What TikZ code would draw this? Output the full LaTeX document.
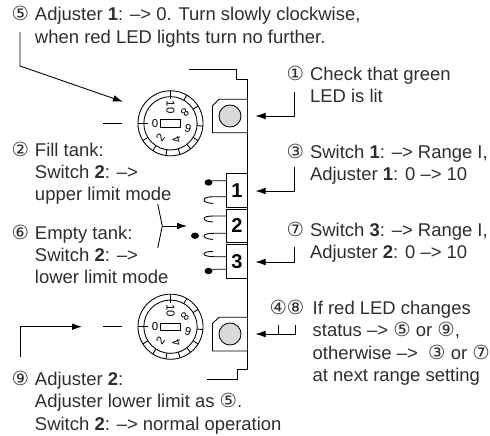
\documentclass[tikz,border=0pt]{standalone}
\usepackage{fontspec}
\setmainfont{Liberation Sans}
\newfontfamily\circfont{DejaVu Sans}
\usetikzlibrary{arrows.meta,shapes.geometric}
\newcommand{\cn}[1]{{\circfont\fontsize{14.6pt}{14.6pt}\selectfont\raisebox{-0.2pt}{#1}}}
\tikzset{
  x=0.75pt,y=-0.75pt,
  txt/.style={anchor=base west,inner sep=0pt,outer sep=0pt,font=\fontsize{13.85pt}{15pt}\selectfont,text=black!82},
  numl/.style={anchor=base west,inner sep=0pt,outer sep=0pt,font=\fontsize{13.85pt}{15pt}\selectfont,text=black!82},
  wire/.style={line width=0.65pt,black},
  tip/.style={-{Latex[length=7.5pt,width=5pt]}},
  ledbox/.style={line width=0.65pt,draw=black,fill=white},
  led/.style={circle,draw=black,line width=0.65pt,fill=black!15,minimum size=16.5pt,inner sep=0pt},
  swbox/.style={draw=black,line width=0.85pt,fill=white,minimum width=15.2pt,minimum height=25pt,inner sep=0pt,font=\bfseries\fontsize{15pt}{16pt}\selectfont},
  dot/.style={ellipse,fill=black,inner sep=0pt,minimum width=6pt,minimum height=4.8pt},
  dialnum/.style={inner sep=0pt,font=\fontsize{8.6pt}{9pt}\selectfont},
}
\newcommand{\dial}[2]{%
 \begin{scope}[shift={(#1,#2)}]
  \draw[wire] (0,0) circle[radius=24.4pt];
  \draw[wire] (0,0) circle[radius=20pt];
  \foreach \a in {60,32,-5,-32,-52,-73,-98,-123,-148}{
    \draw[wire] (\a:20pt) -- (\a:24.4pt);}
  \draw[wire] (180:24.4pt) -- (180:17pt);
  \draw[wire] (90:24.4pt) -- (90:18pt);
  \draw[wire] (-10,-3.7) rectangle (10,3.7);
  \node[dialnum,rotate=0] at (-15.5,0) {0};
  \node[dialnum,rotate=-90] at (0,-16) {10};
  \node[dialnum,rotate=-135] at (14.5,-10.5) {8};
  \node[dialnum,rotate=-195] at (17.5,5) {6};
  \node[dialnum,rotate=-250] at (6,16.5) {4};
  \node[dialnum,rotate=-305] at (-10,14) {2};
 \end{scope}}
\begin{document}
\begin{tikzpicture}
\useasboundingbox (0,0) rectangle (490,436);
% panel
\coordinate (pa) at (189,69);\coordinate (pb) at (236,69);\coordinate (pc) at (236,79);\coordinate (pd) at (247,79);
\coordinate (pe) at (247,369);\coordinate (pf) at (237,369);\coordinate (pg) at (237,379);\coordinate (ph) at (207,379);
\draw[wire] (pa)--(pb)--(pc)--(pd)--(pe)--(pf)--(pg)--(ph);
% LED boxes
\draw[ledbox] (247,99.3)--(219,99.3)--(212.5,105.7)--(212.5,132.7)--(247,132.7);
\node[led] (led1) at (230,116) {};
\draw[ledbox] (247,317.3)--(219,317.3)--(212.5,323.5)--(212.5,351)--(247,351);
\node[led] (led2) at (230,334) {};
% dials
\dial{170.5}{123.3}
\dial{170.5}{326.7}
\coordinate (d1l) at (122,123);\coordinate (d1m) at (103,123);
\draw[wire] (d1m)--(d1l);
\coordinate (d2l) at (122,326.7);\coordinate (d2m) at (103,326.7);
\draw[wire] (d2m)--(d2l);
% switches
\node[swbox,minimum height=25.5pt] (s1) at (237,190.3) {1};
\node[swbox] (s2) at (237,226) {2};
\node[swbox,minimum height=25.5pt] (s3) at (237,261.3) {3};
% levers
\node[dot] (t1) at (208.5,182.5) {};
\draw[wire] (t1) -- (213,180.7) -- (226.7,180.7);
\draw[wire] (226.7,196.7) -- (214,196.7) .. controls (207,196.7) and (204,198) .. (204,200) .. controls (204,202) and (208,203) .. (213,203.5);
\draw[wire] (226.7,216) -- (214,216) .. controls (207,216) and (204,217) .. (204,218.7) .. controls (204,220.5) and (208,221.5) .. (213,222);
\draw[wire] (226.7,233.3) -- (214,233.3) .. controls (207,233.3) and (204,234.5) .. (204,236) .. controls (204,238) and (208,239) .. (213,239.5);
\draw[wire] (226.7,256.7) -- (214,256.7) .. controls (208,256.7) and (204,255.5) .. (204,254) .. controls (204,252.3) and (208,251.5) .. (213,251.5);
\node[dot] (t3) at (208.5,271) {};
\draw[wire] (t3) -- (213,269.3) -- (226.7,269.3);
\node[dot] (free) at (195,235.7) {};
% bracket
\coordinate (bt) at (157.7,204);\coordinate (bm) at (162.3,226);\coordinate (bb) at (157.7,248);\coordinate (be) at (187,226);
\draw[wire] (bt)--(bm)--(bb);
\draw[wire,tip] (bm)--(be);
% leaders
\coordinate (a5a) at (20,32);\coordinate (a5b) at (20,66);\coordinate (a5c) at (123,101.7);
\draw[wire,tip] (a5a)--(a5b)--(a5c);
\coordinate (a9a) at (20,357);\coordinate (a9b) at (20,326.7);\coordinate (a9c) at (82,326.7);
\draw[wire,tip] (a9a)--(a9b)--(a9c);
\coordinate (r1a) at (294,92);\coordinate (r1b) at (294,116);\coordinate (r1c) at (255.5,116);
\draw[wire,tip] (r1a)--(r1b)--(r1c);
\coordinate (r3a) at (294,167);\coordinate (r3b) at (294,191);\coordinate (r3c) at (255.5,191);
\draw[wire,tip] (r3a)--(r3b)--(r3c);
\coordinate (r7a) at (294,247);\coordinate (r7b) at (294,262);\coordinate (r7c) at (255.5,262);
\draw[wire,tip] (r7a)--(r7b)--(r7c);
\coordinate (r4a) at (295,325);\coordinate (r4b) at (295,334);\coordinate (r4c) at (255.5,334);
\coordinate (r4d) at (278.3,325);\coordinate (r4e) at (278.3,334);
\draw[wire,tip] (r4a)--(r4b)--(r4c);
\draw[wire] (r4d)--(r4e);
% text
\node[numl] (n5) at (11.5,20) {\cn{⑤}};
\node[txt] (t5a) at (35,20) {Adjuster \textbf{1}: –> 0. Turn slowly clockwise,};
\node[txt] (t5b) at (35,43) {when red LED lights turn no further.};
\node[numl] (n1) at (286.5,80.7) {\cn{①}};
\node[txt] (t1a) at (310,80.7) {Check that green};
\node[txt] (t1b) at (310,102.7) {LED is lit};
\node[numl] (n3) at (286.5,158) {\cn{③}};
\node[txt] (t3a) at (310,158) {Switch \textbf{1}: –> Range I,};
\node[txt] (t3b) at (310,180.7) {Adjuster \textbf{1}: 0 –> 10};
\node[numl] (n7) at (286.5,236.7) {\cn{⑦}};
\node[txt] (t7a) at (310,236.7) {Switch \textbf{3}: –> Range I,};
\node[txt] (t7b) at (310,258.5) {Adjuster \textbf{2}: 0 –> 10};
\node[numl] (n2) at (11.5,156) {\cn{②}};
\node[txt] (t2a) at (35,156) {Fill tank:};
\node[txt] (t2b) at (35,178) {Switch \textbf{2}: –>};
\node[txt] (t2c) at (35,200.7) {upper limit mode};
\node[numl] (n6) at (11.5,239) {\cn{⑥}};
\node[txt] (t6a) at (35,239) {Empty tank:};
\node[txt] (t6b) at (35,261) {Switch \textbf{2}: –>};
\node[txt] (t6c) at (35,283) {lower limit mode};
\node[numl] (n48) at (269.5,314) {\cn{④}\cn{⑧}};
\node[txt] (t4a) at (312.7,314) {If red LED changes};
\node[txt] (t4b) at (312.7,336.7) {status –> \cn{⑤} or \cn{⑨},};
\node[txt] (t4c) at (312.7,359.3) {otherwise –>\ \ \cn{③} or \cn{⑦}};
\node[txt] (t4d) at (312.7,381.7) {at next range setting};
\node[numl] (n9) at (11.5,385) {\cn{⑨}};
\node[txt] (t9a) at (35,385) {Adjuster \textbf{2}:};
\node[txt] (t9b) at (35,407) {Adjuster lower limit as \cn{⑤}.};
\node[txt] (t9c) at (35,430) {Switch \textbf{2}: –> normal operation};
\end{tikzpicture}
\end{document}
